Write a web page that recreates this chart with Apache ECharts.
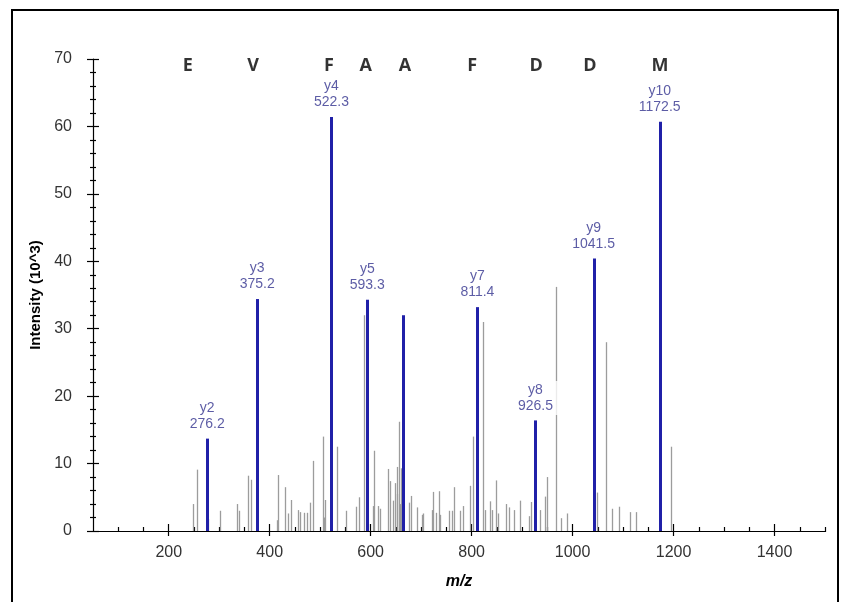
<!DOCTYPE html>
<html>
<head>
<meta charset="utf-8">
<script src="https://cdn.jsdelivr.net/npm/echarts@6/dist/echarts.min.js"></script>
<style>
html,body{margin:0;padding:0;background:#fff;}
#chart{width:841px;height:602px;}
</style>
</head>
<body>
<div id="chart"></div>
<script>
// ---- data ----
const yIonNames = ['y2', 'y3', 'y4', 'y5', '', 'y7', 'y8', 'y9', 'y10'];
const yIonMz = [276.2, 375.2, 522.3, 593.3, 664.0, 811.4, 926.5, 1041.5, 1172.5];
const yIonIntensity = [13.7, 34.4, 61.4, 34.3, 32.0, 33.2, 16.4, 40.4, 60.7];

const otherMz = [247.5, 257, 278, 302, 335, 339, 357, 362, 414, 416, 431, 436, 443, 457, 461, 467, 473, 480, 485, 505, 507, 510, 532.7, 552, 570, 576, 587, 604, 607, 614, 618.5, 633.6, 638, 645, 648, 651.5, 653, 656, 658, 660, 675, 680, 691, 702, 704, 721, 723.5, 730, 735, 737, 754.6, 762, 766, 777, 782, 797, 802, 822, 826.6, 836.5, 841, 848, 853, 868, 874.7, 884, 896, 913, 917.6, 935.5, 945, 950, 968, 976.5, 989.6, 1049, 1066, 1079, 1092.6, 1114, 1125, 1195];
const otherIntensity = [4.0, 9.1, 1.8, 3.0, 4.0, 3.0, 8.2, 7.6, 1.6, 8.3, 6.5, 2.6, 4.6, 3.1, 2.8, 2.7, 2.7, 4.2, 10.4, 14.0, 2.0, 4.6, 12.5, 3.0, 3.6, 5.0, 32.0, 3.7, 11.9, 3.7, 3.3, 9.2, 7.4, 4.5, 7.1, 9.5, 5.5, 16.2, 4.0, 9.3, 4.2, 5.2, 3.5, 2.4, 2.6, 3.1, 5.8, 2.7, 5.9, 2.4, 3.0, 3.0, 6.5, 3.0, 3.7, 6.7, 14.0, 31.0, 3.1, 4.4, 3.1, 7.5, 2.6, 4.0, 3.5, 3.1, 4.5, 2.2, 4.3, 3.1, 5.1, 8.0, 36.2, 1.9, 2.6, 5.7, 28.0, 3.3, 3.6, 2.8, 2.8, 12.5];

const sequenceLetters = ['E', 'V', 'F', 'A', 'A', 'F', 'D', 'D', 'M'];
const sequenceMz = [238, 367, 517.5, 590, 668, 801, 928, 1034.5, 1173];
const sequenceLevel = 69.0;

const xMajorTicks = [200, 400, 600, 800, 1000, 1200, 1400];
const xMinorTicks = [100, 150, 250, 300, 350, 450, 500, 550, 650, 700, 750, 850, 900, 950, 1050, 1100, 1150, 1250, 1300, 1350, 1450, 1500];
const xMin = 50, xMax = 1500;
const yMin = 0, yMax = 70, yStep = 10;

// ---- build ----
const blueData = yIonMz.map((m, i) => [m, yIonIntensity[i], yIonNames[i]]);
const grayData = otherMz.map((m, i) => [m, otherIntensity[i]]);
const letterData = sequenceMz.map((m, i) => [m, sequenceLevel, sequenceLetters[i]]);

function stick(color, width) {
  return function (params, api) {
    const x = api.value(0), y = api.value(1);
    const p0 = api.coord([x, 0]);
    const p1 = api.coord([x, y]);
    const px = Math.round(p0[0]) + (width % 2 ? 0.5 : 0);
    return {
      type: 'line',
      shape: { x1: px, y1: p0[1], x2: px, y2: p1[1] },
      style: { stroke: color, lineWidth: width }
    };
  };
}

const tickLabelStyle = { color: '#333', fontSize: 16, fontFamily: 'Liberation Sans, Arial, sans-serif', formatter: v => String(v) };
const blackLine = { color: '#000', width: 1.2 };

function xAxisDef(extra) {
  return Object.assign({
    type: 'value', min: xMin, max: xMax, position: 'bottom', offset: 0,
    splitLine: { show: false },
    axisLine: { show: false },
    axisLabel: { show: false }
  }, extra);
}
function yAxisDef(extra) {
  return Object.assign({
    type: 'value', min: yMin, max: yMax, interval: yStep, position: 'left', offset: 0,
    splitLine: { show: false },
    axisLine: { show: false },
    axisLabel: { show: false }
  }, extra);
}

const option = {
  animation: false,
  backgroundColor: '#fff',
  grid: { left: 93, right: 16, top: 59, bottom: 71, containLabel: false },
  graphic: [{
    type: 'rect', shape: { x: 12, y: 10, width: 826, height: 610 },
    style: { fill: 'none', stroke: '#000', lineWidth: 2 }, silent: true
  }],
  xAxis: [
    xAxisDef({
      axisLine: { show: true, onZero: false, lineStyle: blackLine },
      axisTick: { show: true, customValues: xMajorTicks, length: 5, lineStyle: blackLine },
      axisLabel: Object.assign({ show: true, customValues: xMajorTicks, margin: 14 }, tickLabelStyle),
      name: 'm/z', nameLocation: 'middle', nameGap: 43,
      nameTextStyle: { color: '#000', fontSize: 16, fontWeight: 'bold', fontStyle: 'italic', fontFamily: 'Liberation Sans, Arial, sans-serif' }
    }),
    xAxisDef({ axisTick: { show: true, inside: true, customValues: xMajorTicks, length: 7, lineStyle: blackLine } }),
    xAxisDef({ axisTick: { show: true, customValues: xMinorTicks, length: 1, lineStyle: blackLine } }),
    xAxisDef({ axisTick: { show: true, inside: true, customValues: xMinorTicks, length: 4, lineStyle: blackLine } })
  ],
  yAxis: [
    yAxisDef({
      axisLine: { show: true, onZero: false, lineStyle: blackLine },
      axisTick: { show: true, length: 6, lineStyle: blackLine },
      minorTick: { show: true, splitNumber: 5, length: 3, lineStyle: blackLine },
      axisLabel: Object.assign({ show: true, margin: 21 }, tickLabelStyle),
      name: 'Intensity (10^3)', nameLocation: 'middle', nameGap: 50,
      nameTextStyle: { color: '#000', fontSize: 15, fontWeight: 'bold', fontFamily: 'Liberation Sans, Arial, sans-serif' }
    }),
    yAxisDef({
      axisTick: { show: true, inside: true, length: 6, lineStyle: blackLine },
      minorTick: { show: true, splitNumber: 5, length: 3, lineStyle: blackLine }
    })
  ],
  series: [
    {
      type: 'custom', name: 'other', xAxisIndex: 0, yAxisIndex: 0, z: 2,
      renderItem: stick('#9c9c9c', 1.3), data: grayData, clip: false
    },
    {
      type: 'custom', name: 'y ions', xAxisIndex: 0, yAxisIndex: 0, z: 3,
      renderItem: stick('#2020a8', 3), data: blueData, clip: false
    },
    {
      type: 'scatter', name: 'labels', xAxisIndex: 0, yAxisIndex: 0, z: 10,
      data: blueData.filter(d => d[2] !== ''),
      symbolSize: 1, itemStyle: { color: 'rgba(0,0,0,0)' },
      label: {
        show: true, position: 'top', distance: 5,
        formatter: p => p.data[2] + '\n' + p.data[0].toFixed(1),
        color: '#33338f', fontSize: 14, lineHeight: 16,
        fontFamily: 'Liberation Sans, Arial, sans-serif',
        backgroundColor: '#fff', padding: [1, 5, 1, 5]
      }
    },
    {
      type: 'scatter', name: 'sequence', xAxisIndex: 0, yAxisIndex: 0, z: 11,
      data: letterData,
      symbolSize: 1, itemStyle: { color: 'rgba(0,0,0,0)' },
      label: {
        show: true, position: 'inside',
        formatter: p => p.data[2],
        color: '#000', fontSize: 18, fontWeight: 'bold',
        fontFamily: 'Open Sans, Liberation Sans, sans-serif'
      }
    }
  ]
};

const chart = echarts.init(document.getElementById('chart'), null, { renderer: 'canvas' });
chart.setOption(option);
</script>
</body>
</html>
